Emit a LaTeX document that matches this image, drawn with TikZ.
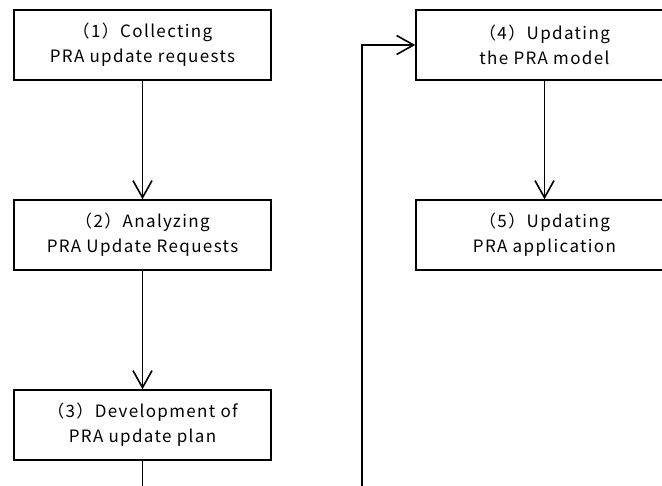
\documentclass[tikz,border=0pt]{standalone}
\usepackage{fontspec}
\setmainfont{Noto Sans CJK JP}[LetterSpace=8]
\usetikzlibrary{arrows.meta}
\tikzset{
  stage/.style={draw, line width=1.5pt, rectangle, minimum width=257pt, minimum height=70pt,
    align=center, inner sep=0pt, font=\fontsize{17pt}{25pt}\selectfont},
  flow/.style={line width=1.6pt, -{Straight Barb[length=17pt,width=19pt,line width=1.6pt]}},
  plain/.style={line width=1.6pt}
}
\begin{document}
\begin{tikzpicture}[x=1pt,y=1pt]
\useasboundingbox (0,0) rectangle (662,-486);
\clip (0,0) rectangle (662,-486);
\node[stage] (b1) at (142.5,-45) {（1）Collecting\\PRA update requests};
\node[stage] (b2) at (142.5,-235) {（2）Analyzing\\PRA Update Requests};
\node[stage] (b3) at (142.5,-425) {（3）Development of\\PRA update plan};
\node[stage] (b4) at (544.5,-45) {（4）Updating\\the PRA model};
\node[stage] (b5) at (544.5,-235) {（5）Updating\\PRA application};
\coordinate (b3end) at (142.5,-490);
\coordinate (loopstart) at (362,-490);
\draw[flow] (b1) -- (b2);
\draw[flow] (b2) -- (b3);
\draw[plain] (b3) -- (b3end);
\draw[flow] (b4) -- (b5);
\draw[flow] (loopstart) |- (b4.west);
\end{tikzpicture}
\end{document}
